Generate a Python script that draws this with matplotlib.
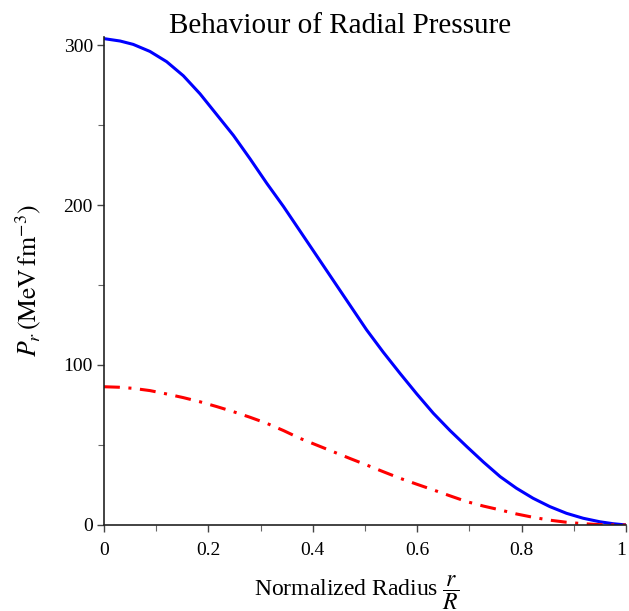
import numpy as np
import matplotlib
matplotlib.use("Agg")
import matplotlib.pyplot as plt
from matplotlib.ticker import MultipleLocator, FixedLocator

# values (r/R, MeV fm^-3)
radius_blue = [0, 0.031, 0.056, 0.088, 0.12, 0.152, 0.184, 0.216, 0.248, 0.28,
               0.312, 0.344, 0.375, 0.407, 0.439, 0.471, 0.503, 0.535, 0.567,
               0.599, 0.631, 0.663, 0.695, 0.727, 0.759, 0.79, 0.822, 0.854,
               0.886, 0.918, 0.95, 0.975, 1.0]
pressure_blue = [304, 302.5, 300.4, 296, 289.6, 280.8, 269.5, 256.5, 243.5, 228.8,
                 213.5, 199, 184, 168.5, 153, 137.5, 122, 108, 94.8,
                 82, 69.8, 59, 49, 39.3, 30.2, 23, 16.7, 11.5,
                 7.3, 4.2, 2, 0.8, 0]

radius_red = [0, 0.028, 0.056, 0.088, 0.12, 0.152, 0.184, 0.216, 0.248, 0.28,
              0.312, 0.344, 0.375, 0.407, 0.439, 0.471, 0.503, 0.535, 0.567,
              0.599, 0.631, 0.663, 0.695, 0.727, 0.759, 0.79, 0.822, 0.854,
              0.886, 0.918, 0.95, 0.975, 1.0]
pressure_red = [86.4, 86.1, 85.4, 84, 81.9, 79.6, 77, 74, 70.8, 67.3,
                63.5, 59, 54.2, 50, 45.8, 41.6, 37.5, 33.3, 29.2,
                25.5, 21.9, 18.2, 14.6, 11.8, 9.4, 6.9, 4.8, 3,
                1.7, 0.8, 0.2, 0.05, 0]

x_ticks = [0, 0.2, 0.4, 0.6, 0.8, 1]
x_tick_labels = ["0", "0.2", "0.4", "0.6", "0.8", "1"]
y_ticks = [0, 100, 200, 300]

plt.rcParams['font.family'] = ['Liberation Serif', 'DejaVu Serif']
plt.rcParams['mathtext.fontset'] = 'stix'

fig = plt.figure(figsize=(6.29, 6.11), dpi=100)
ax = fig.add_axes([0.1653, 0.1408, 0.8299, 0.7986])

ax.plot(radius_blue, pressure_blue, color='#0000ff', linewidth=2.2)
ax.plot(radius_red, pressure_red, color='#ff0000', linewidth=2.2,
        linestyle=(0, (5.2, 2.8, 1, 2.8)))

ax.set_xlim(0, 1)
ax.set_ylim(0, 305)

for side in ['top', 'right']:
    ax.spines[side].set_visible(False)
for side in ['left', 'bottom']:
    ax.spines[side].set_linewidth(1.2)
    ax.spines[side].set_color('#222222')

ax.xaxis.set_major_locator(FixedLocator(x_ticks))
ax.set_xticklabels(x_tick_labels)
ax.get_xticklabels()[-1].set_horizontalalignment('right')
ax.xaxis.set_minor_locator(MultipleLocator(0.1))
ax.yaxis.set_major_locator(FixedLocator(y_ticks))
ax.yaxis.set_minor_locator(MultipleLocator(50))
ax.tick_params(which='major', length=5, width=1, labelsize=14, color='#444444')
ax.tick_params(which='minor', length=4, width=0.8, color='#666666')
ax.tick_params(axis='x', which='major', pad=7)
ax.tick_params(axis='y', which='major', pad=3)

# title sits a bit left of the axes centre, like the original
fig.text(0.54, 1 - 33 / 611, 'Behaviour of Radial Pressure', fontsize=21,
         ha='center', va='baseline')
ax.set_xlabel(r'Normalized Radius $\dfrac{r}{R}$', fontsize=17, labelpad=11)
ax.xaxis.label.set_x(0.485)
ax.set_ylabel(r'$P_r\,\left(\mathrm{MeV\,fm}^{-3}\right)$', fontsize=18.5, labelpad=15)

fig.savefig('out.png', dpi=100)
